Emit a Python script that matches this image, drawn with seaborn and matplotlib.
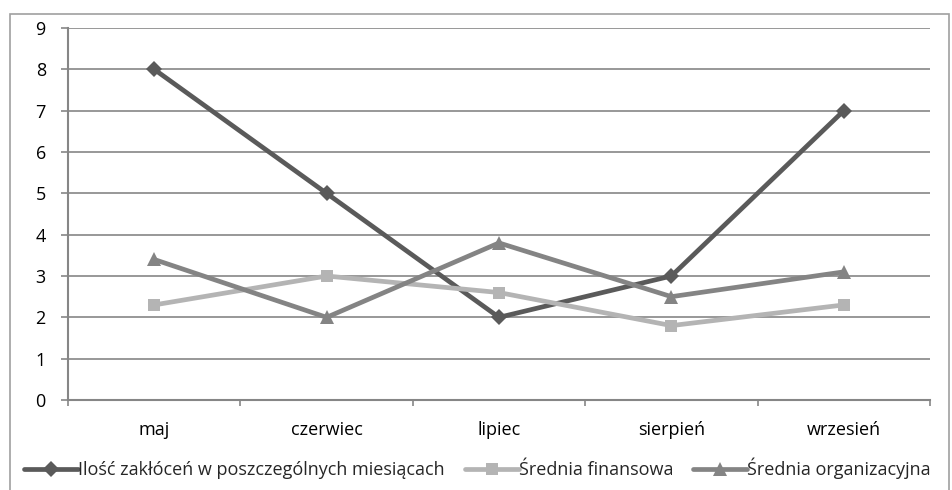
import matplotlib
matplotlib.use("Agg")
import matplotlib.pyplot as plt
import pandas as pd
import seaborn as sns
from matplotlib.patches import Rectangle
from matplotlib.ticker import FixedLocator

sns.set_theme(style="white")
plt.rcParams['font.family'] = ['Open Sans', 'DejaVu Sans']

months = ["maj", "czerwiec", "lipiec", "sierpień", "wrzesień"]
zaklocenia = [8, 5, 2, 3, 7]
finansowa = [2.3, 3.0, 2.6, 1.8, 2.3]
organizacyjna = [3.4, 2.0, 3.8, 2.5, 3.1]

series = [
    ("Ilość zakłóceń w poszczególnych miesiącach", zaklocenia, "#5a5a5a", "D", 8.5),
    ("Średnia finansowa", finansowa, "#b4b4b4", "s", 8.5),
    ("Średnia organizacyjna", organizacyjna, "#848484", "^", 10),
]

fig = plt.figure(figsize=(9.52, 4.9), dpi=100)
fig.patches.append(Rectangle((10 / 952, -0.01), 939 / 952, 1 - 14 / 490 + 0.01,
                             transform=fig.transFigure, fill=False,
                             edgecolor="#a0a0a0", linewidth=1.2))
ax = fig.add_axes([68 / 952, 1 - 400 / 490, 862 / 952, 372 / 490])

for name, vals, col, mk, ms in series:
    df = pd.DataFrame({"month": months, "value": vals})
    sns.lineplot(data=df, x="month", y="value", ax=ax, color=col, linewidth=3.4,
                 marker=mk, markersize=ms, markeredgewidth=0, label=name, sort=False)

ax.set_xlim(-0.5, 4.5)
ax.set_ylim(0, 9)
ax.set_yticks(range(0, 10))
ax.yaxis.grid(True, color="#868686", linewidth=1.2)
ax.set_axisbelow(True)
for s in ["top", "right"]:
    ax.spines[s].set_visible(False)
for s in ["left", "bottom"]:
    ax.spines[s].set_color("#868686")
    ax.spines[s].set_linewidth(1.5)
ax.set_xlabel("")
ax.set_ylabel("")
ax.xaxis.set_minor_locator(FixedLocator([-0.5, 0.5, 1.5, 2.5, 3.5, 4.5]))
ax.tick_params(axis="x", which="major", length=0, pad=15, labelsize=13, colors="black")
ax.tick_params(axis="x", which="minor", bottom=True, length=4, width=1.2, color="#868686")
ax.tick_params(axis="y", left=True, length=5, width=1.2, color="#868686", pad=11,
               labelsize=13, labelcolor="black")

ax.legend(loc="upper left", bbox_to_anchor=(-44 / 862, -0.155), ncol=3, frameon=False,
          fontsize=13, handlelength=3.0, handletextpad=0.0, columnspacing=1.1,
          borderaxespad=0, borderpad=0)

fig.savefig("out.png", dpi=100)
